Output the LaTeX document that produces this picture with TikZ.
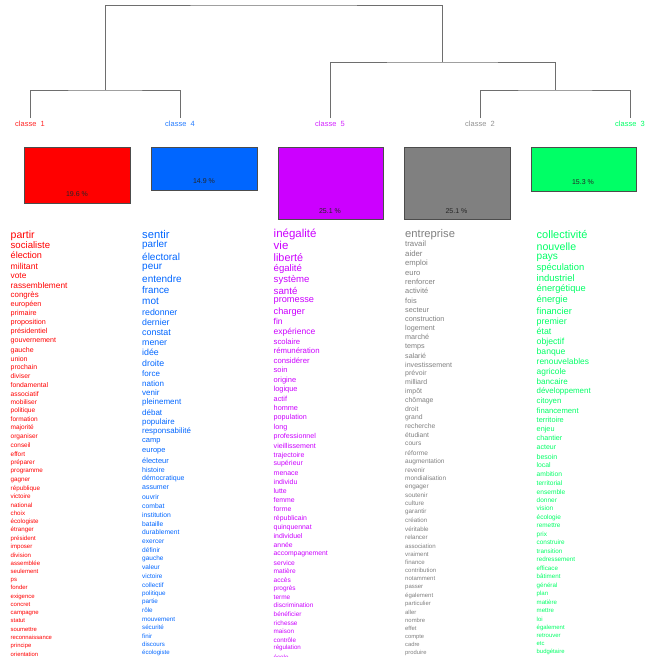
\documentclass[tikz,border=0pt]{standalone}
\usepackage{fontspec}
\setmainfont{Liberation Sans}
\definecolor{cred}{HTML}{FF0000}
\definecolor{cblue}{HTML}{0066FF}
\definecolor{cpurple}{HTML}{CC00FF}
\definecolor{cgray}{HTML}{808080}
\definecolor{cgreen}{HTML}{00FF66}
\definecolor{dendro}{HTML}{6E6E6E}
\begin{document}
\begin{tikzpicture}[x=1pt,y=-1pt]
\tikzset{
  wordnode/.style={inner sep=0pt, anchor=base west},
  classlabel/.style={inner sep=0pt, font=\fontsize{7.5}{7.5}\selectfont},
  dline/.style={draw=dendro, line width=0.9pt},
  pctbox/.style={draw=black!70, line width=0.7pt, anchor=north west, minimum width=105.5pt, inner sep=0pt},
  pctlabel/.style={inner sep=0pt, font=\fontsize{7}{7}\selectfont, text=black!85}
}
\useasboundingbox (0,0) rectangle (650,657);
\fill[white] (0,0) rectangle (650,657);

% class labels
\node[classlabel, text=cred!85] (k1) at (30,123.5) {classe~~1};
\node[classlabel, text=cblue!85] (k4) at (180,123.5) {classe~~4};
\node[classlabel, text=cpurple!85] (k5) at (330,123.5) {classe~~5};
\node[classlabel, text=cgray!85] (k2) at (480,123.5) {classe~~2};
\node[classlabel, text=cgreen] (k3) at (630,123.5) {classe~~3};

% dendrogram
\coordinate (l1) at (30,118);
\coordinate (l4) at (180,118);
\coordinate (l5) at (330,118);
\coordinate (l2) at (480,118);
\coordinate (l3) at (630,118);
\coordinate (jL) at (105,90);
\coordinate (jR) at (442,62);
\coordinate (jRR) at (555,90);
\coordinate (top) at (273.5,5);
\draw[dline] (l1) |- (jL) -| (l4);
\draw[dline] (l2) |- (jRR) -| (l3);
\draw[dline] (l5) |- (jR) -| (jRR);
\draw[dline] (jL) |- (top) -| (jR);

% boxes
\node[pctbox, fill=cred, minimum height=56.3pt] (b1) at (24,146.7) {};
\node[pctbox, fill=cblue, minimum height=42.8pt] (b4) at (151,146.7) {};
\node[pctbox, fill=cpurple, minimum height=72pt] (b5) at (277.5,146.7) {};
\node[pctbox, fill=cgray, minimum height=72pt] (b2) at (404,146.7) {};
\node[pctbox, fill=cgreen, minimum height=43.9pt] (b3) at (530.5,146.7) {};
\node[pctlabel] (p1) at (77,194) {19.6 \%};
\node[pctlabel] (p4) at (204,181) {14.9 \%};
\node[pctlabel] (p5) at (330,210.7) {25.1 \%};
\node[pctlabel] (p2) at (456.5,210.7) {25.1 \%};
\node[pctlabel] (p3) at (583,182) {15.3 \%};

% column classe 1
\foreach \y/\sz/\wtxt [count=\i] in {
235/10.5/partir,
245.7/9.6/socialiste,
256/9.1/élection,
266.7/8.6/militant,
276/8.3/vote,
286/8.3/rassemblement,
295/7.9/congrès,
304.7/7.3/européen,
313.7/7.2/primaire,
322.7/7.2/proposition,
331.7/7.2/présidentiel,
340.7/7.1/gouvernement,
350/7.0/gauche,
359.3/6.9/union,
367.7/6.9/prochain,
376.7/6.8/diviser,
385.7/6.8/fondamental,
394.3/6.7/associatif,
402.7/6.6/mobiliser,
411/6.6/politique,
420/6.5/formation,
428/6.5/majorité,
436.3/6.5/organiser,
446/6.4/conseil,
454.7/6.4/effort,
463/6.4/préparer,
471/6.3/programme,
479.7/6.3/gagner,
488.3/6.3/république,
497/6.3/victoire,
505.3/6.2/national,
513.7/6.2/choix,
521.7/6.2/écologiste,
530/6.2/étranger,
538.7/6.1/président,
547/6.1/imposer,
555.3/6.1/division,
563.7/6.1/assemblée,
571.7/6.0/seulement,
579.7/6.0/ps,
588/6.0/fonder,
596.3/6.0/exigence,
604.7/6.0/concret,
612.3/6.0/campagne,
621/5.9/statut,
629.3/5.9/soumettre,
637.7/5.9/reconnaissance,
645.7/5.9/principe,
654.3/5.9/orientation}
{\node[wordnode, text=cred, font=\fontsize{\sz}{\sz}\selectfont] (wa\i) at (10.5,{\y+0.3*\sz}) {\wtxt};}

% column classe 4
\foreach \y/\sz/\wtxt [count=\i] in {
235/11.2/sentir,
245/9.9/parler,
257/10/électoral,
266.7/10/peur,
279/10/entendre,
290.3/9.8/france,
301.7/10/mot,
312.7/8.8/redonner,
322.7/8.8/dernier,
332.7/8.9/constat,
342.7/8.8/mener,
353/8.8/idée,
363.7/8.8/droite,
374/8.0/force,
383.7/8.0/nation,
393.3/8.0/venir,
402.3/8.0/pleinement,
412.7/8.0/débat,
421.7/7.9/populaire,
431.3/7.9/responsabilité,
440/7.5/camp,
450.7/7.5/europe,
461.3/7.5/électeur,
470/7.0/histoire,
478.7/7.0/démocratique,
487.3/7.0/assumer,
497.3/6.8/ouvrir,
506.3/6.8/combat,
515.3/6.8/institution,
524/6.7/bataille,
532.7/6.7/durablement,
541.3/6.6/exercer,
550.7/6.6/définir,
559/6.5/gauche,
568/6.5/valeur,
576.7/6.4/victoire,
585.3/6.4/collectif,
593.3/6.3/politique,
602/6.3/partie,
611/6.3/rôle,
619.3/6.3/mouvement,
628/6.2/sécurité,
636.3/6.2/finir,
644.7/6.1/discours,
652.7/6.1/écologiste}
{\node[wordnode, text=cblue, font=\fontsize{\sz}{\sz}\selectfont] (wd\i) at (142,{\y+0.3*\sz}) {\wtxt};}

% column classe 5
\foreach \y/\sz/\wtxt [count=\i] in {
234/11.5/inégalité,
246/11.5/vie,
258/10.8/liberté,
268.3/9.6/égalité,
279.3/9.6/système,
291.3/9.7/santé,
300/9.2/promesse,
311.3/9.2/charger,
322/8.5/fin,
331.7/8.5/expérience,
341.7/7.7/scolaire,
351.3/7.8/rémunération,
361.3/7.7/considérer,
370.7/7.5/soin,
380/7.5/origine,
389.3/7.4/logique,
399/7.3/actif,
408.7/7.3/homme,
417.3/7.2/population,
427/7.2/long,
436.3/7.1/professionnel,
446/7.1/vieillissement,
455/7.0/trajectoire,
463.7/7.0/supérieur,
473/7.0/menace,
482.3/7.0/individu,
491.7/6.9/lutte,
500.7/6.9/femme,
509.3/6.9/forme,
518/6.9/républicain,
527/6.9/quinquennat,
536.7/6.9/individuel,
545.7/6.8/année,
553.3/6.8/accompagnement,
563/6.7/service,
571.7/6.6/matière,
580.3/6.6/accès,
588.7/6.5/progrès,
597.3/6.5/terme,
606/6.5/discrimination,
614.7/6.4/bénéficier,
623.3/6.4/richesse,
631.7/6.3/maison,
640.3/6.3/contrôle,
648/6.2/régulation,
657.5/6.2/école}
{\node[wordnode, text=cpurple, font=\fontsize{\sz}{\sz}\selectfont] (we\i) at (273.5,{\y+0.3*\sz}) {\wtxt};}

% column classe 2
\foreach \y/\sz/\wtxt [count=\i] in {
234/11.2/entreprise,
244/7.8/travail,
254/7.8/aider,
263/7.7/emploi,
273/7.6/euro,
282.3/7.5/renforcer,
291.7/7.4/activité,
301/7.4/fois,
310.3/7.3/secteur,
319.7/7.3/construction,
328.3/7.2/logement,
337.3/7.2/marché,
346.3/7.2/temps,
356/7.1/salarié,
365.3/7.1/investissement,
373.7/7.0/prévoir,
382.7/7.0/milliard,
391.3/6.9/impôt,
400.3/6.9/chômage,
409.3/6.8/droit,
417.7/6.8/grand,
426.7/6.8/recherche,
435.7/6.7/étudiant,
444/6.6/cours,
453.3/6.6/réforme,
461.7/6.5/augmentation,
470.3/6.5/revenir,
478.7/6.4/mondialisation,
486.3/6.4/engager,
495.3/6.3/soutenir,
503.7/6.3/culture,
512/6.3/garantir,
520.7/6.2/création,
529.3/6.2/véritable,
538/6.2/relancer,
546.3/6.1/association,
554.3/6.1/vraiment,
562.7/6.1/finance,
571/6.0/contribution,
579/6.0/notamment,
586.7/6.0/passer,
595.3/6.0/également,
603.7/5.9/particulier,
612.3/5.9/aller,
620.7/5.9/nombre,
628.7/5.9/effet,
636.3/5.8/compte,
644.3/5.8/cadre,
652.3/5.8/produire}
{\node[wordnode, text=cgray, font=\fontsize{\sz}{\sz}\selectfont] (wb\i) at (405,{\y+0.3*\sz}) {\wtxt};}

% column classe 3
\foreach \y/\sz/\wtxt [count=\i] in {
235/11/collectivité,
247/10.6/nouvelle,
256.3/10.1/pays,
267.7/9.4/spéculation,
279/9.5/industriel,
289/9.3/énergétique,
300/9.3/énergie,
311.3/9.3/financier,
321.7/8.9/premier,
332.3/8.8/état,
341.7/8.7/objectif,
352/8.6/banque,
362.3/8.4/renouvelables,
371.7/8.4/agricole,
382.3/8.1/bancaire,
391/7.9/développement,
400.7/7.8/citoyen,
410.7/7.7/financement,
420.3/7.4/territoire,
429/7.3/enjeu,
438.7/7.2/chantier,
447.7/7.0/acteur,
457/7.0/besoin,
465.7/6.8/local,
474.7/6.7/ambition,
483.3/6.6/territorial,
492.3/6.6/ensemble,
500.7/6.5/donner,
509/6.5/vision,
517.3/6.5/écologie,
526/6.4/remettre,
534.7/6.4/prix,
543/6.4/construire,
551.7/6.3/transition,
560/6.3/redressement,
568.3/6.2/efficace,
577/6.2/bâtiment,
585.3/6.2/général,
594/6.1/plan,
602.7/6.1/matière,
610.7/6.1/mettre,
619.3/6.0/loi,
627.3/6.0/également,
635.7/6.0/retrouver,
644/5.9/etc,
652/5.9/budgétaire}
{\node[wordnode, text=cgreen, font=\fontsize{\sz}{\sz}\selectfont] (wc\i) at (536.5,{\y+0.3*\sz}) {\wtxt};}
\end{tikzpicture}
\end{document}
